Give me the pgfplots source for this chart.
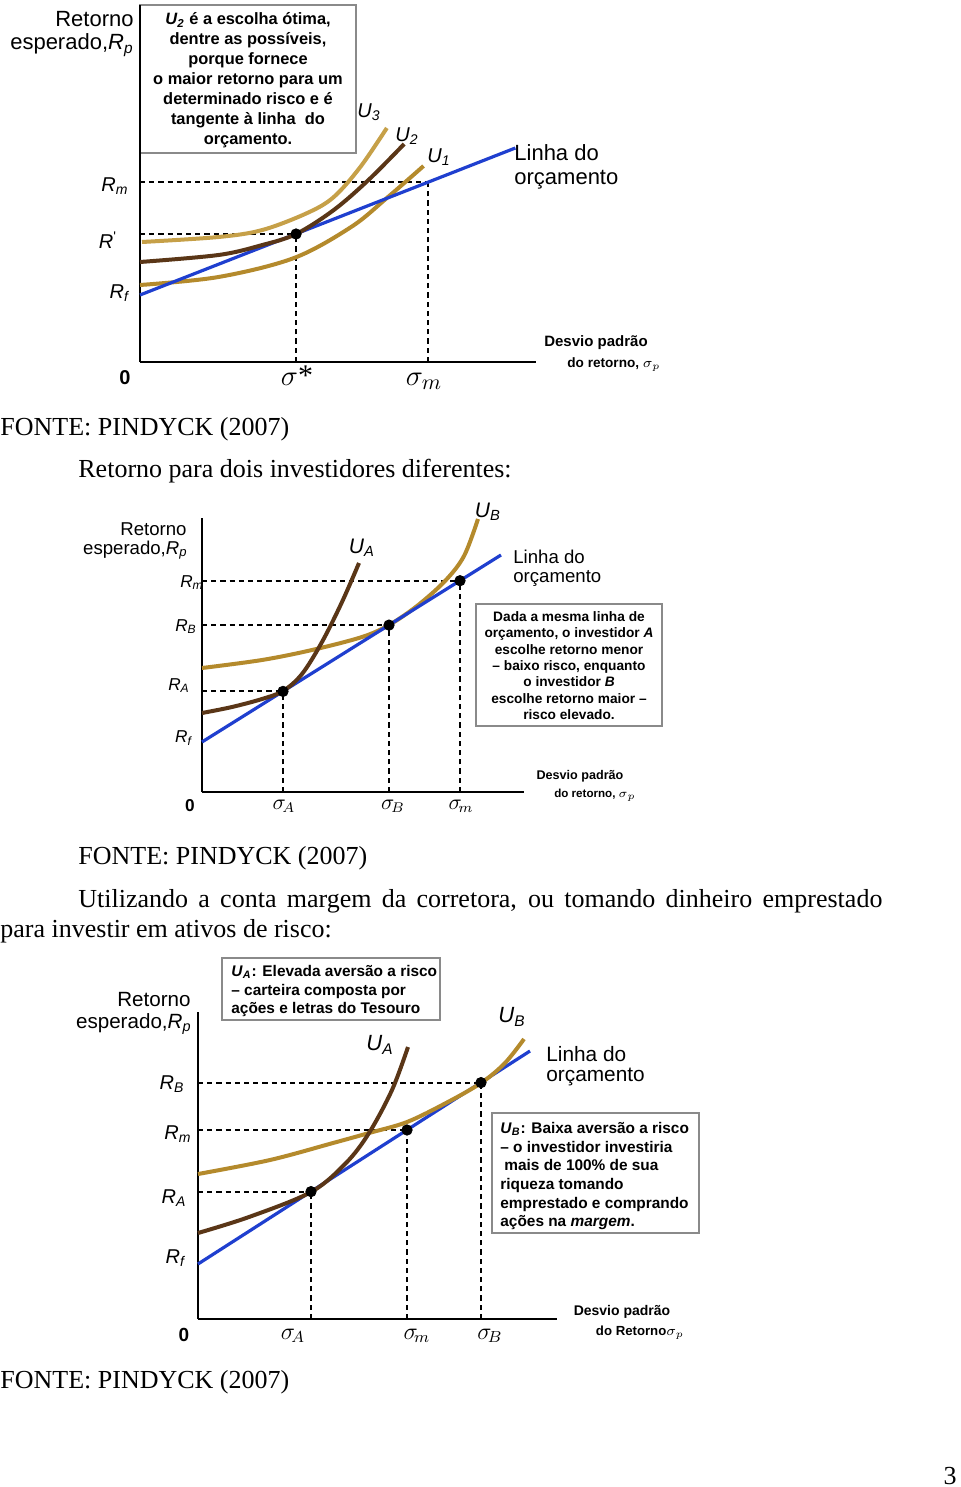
\documentclass[border=0pt]{standalone}
\usepackage{pgfplots}
\pgfplotsset{compat=1.18}
\usepackage{fontspec}
\setmainfont{Liberation Serif}
\newfontfamily\arl{Liberation Sans}
\definecolor{blu}{HTML}{1F3FCF}
\definecolor{gld}{HTML}{B48A2C}
\definecolor{lgld}{HTML}{C6A048}
\definecolor{brn}{HTML}{5A3617}
\definecolor{bxgray}{HTML}{8A8A8A}
\pgfplotsset{diag/.style={
  scale only axis, clip=false, anchor=south west,
  axis x line=bottom, axis y line=left,
  axis line style={-, line width=1.1pt, black},
  xtick=\empty, ytick=\empty, xmin=0, ymin=0},
curve/.style={smooth, tension=0.55, line width=2pt, no marks},
dsh/.style={black, line width=1pt, dash pattern=on 2.6pt off 2pt, no marks},
dot/.style={only marks, mark=*, mark size=2.6pt, black},
bline/.style={blu, line width=1.6pt, no marks}}
\newcommand{\fs}[1]{\fontsize{#1}{#1}\selectfont}
\newcommand{\Rl}[1]{\textit{R}\textsubscript{\textit{#1}}}
\newcommand{\Ul}[1]{\textit{U}\textsubscript{\textit{#1}}}
\begin{document}
\begin{tikzpicture}
\begin{scope}[x=0.5pt,y=-0.5pt,every node/.style={inner sep=0pt}]
\fill[white] (0,0) rectangle (960,1487);
% ---------- diagram 1 labels
\node[anchor=east,font=\arl\fs{11}] at (134,19) {Retorno};
\node[anchor=east,font=\arl\fs{11}] at (134,45) {esperado,\Rl{p}};
\draw[bxgray,line width=0.6pt] (140,5) rectangle (356,153);
\begin{scope}[every node/.style={anchor=base,inner sep=0pt,font=\arl\bfseries\fs{8.2}}]
\node at (248,25) {\Ul{2} é a escolha ótima,};
\node at (248,45) {dentre as possíveis,};
\node at (248,65) {porque fornece};
\node at (248,85) {o maior retorno para um};
\node at (248,105) {determinado risco e é};
\node at (248,125) {tangente à linha\ \ do};
\node at (248,145) {orçamento.};
\end{scope}
\node[font=\arl\fs{10}] at (369,112) {\Ul{3}};
\node[font=\arl\fs{10}] at (407,136) {\Ul{2}};
\node[font=\arl\fs{10}] at (439,157) {\Ul{1}};
\node[anchor=west,font=\arl\fs{11}] at (514,153) {Linha do};
\node[anchor=west,font=\arl\fs{11}] at (514,180) {orçamento};
\node[font=\arl\fs{10}] at (115,186) {\Rl{m}};
\node[font=\arl\fs{10}] at (108,240) {\textit{R}\textsuperscript{'}};
\node[font=\arl\fs{10}] at (120,293) {\Rl{f}};
\node[font=\arl\bfseries\fs{10}] at (125,378) {0};
\node[font=\fs{15}] at (297,376) {$\sigma$*};
\node[font=\fs{15}] at (424,381) {$\sigma_{m}$};
\node[font=\arl\bfseries\fs{7.5}] at (596,343) {Desvio padrão};
\node[font=\arl\bfseries\fs{6.8}] at (614,365) {do retorno, $\sigma_p$};
% ---------- text
\node[anchor=base west,font=\fs{13}] at (0,435) {FONTE: PINDYCK (2007)};
\node[anchor=base west,font=\fs{13}] at (78,477) {Retorno para dois investidores diferentes:};
% ---------- diagram 2 labels
\node[anchor=east,font=\arl\fs{9.3}] at (187,529) {Retorno};
\node[anchor=east,font=\arl\fs{9.3}] at (188,550) {esperado,\Rl{p}};
\node[font=\arl\fs{8.6}] at (192,583) {\Rl{m}};
\node[font=\arl\fs{8.6}] at (186,627) {\Rl{B}};
\node[font=\arl\fs{8.6}] at (179,686) {\Rl{A}};
\node[font=\arl\fs{8.6}] at (184,738) {\Rl{f}};
\node[font=\arl\bfseries\fs{8.6}] at (190,806) {0};
\node[font=\fs{10.5}] at (284,806) {$\sigma_{\!A}$};
\node[font=\fs{10.5}] at (393,806) {$\sigma_{\!B}$};
\node[font=\fs{10.5}] at (461,806) {$\sigma_{\!m}$};
\node[font=\arl\fs{10.5}] at (362,548) {\Ul{A}};
\node[font=\arl\fs{10.5}] at (488,512) {\Ul{B}};
\node[anchor=west,font=\arl\fs{9.3}] at (513,557) {Linha do};
\node[anchor=west,font=\arl\fs{9.3}] at (513,578) {orçamento};
\draw[bxgray,line width=0.6pt] (476,604) rectangle (662,726);
\begin{scope}[every node/.style={anchor=base,inner sep=0pt,font=\arl\bfseries\fs{6.85}}]
\node at (569,621) {Dada a mesma linha de};
\node at (569,637) {orçamento, o investidor \textit{A}};
\node at (569,654) {escolhe retorno menor};
\node at (569,670) {– baixo risco, enquanto};
\node at (569,686) {o investidor \textit{B}};
\node at (569,703) {escolhe retorno maior –};
\node at (569,719) {risco elevado.};
\end{scope}
\node[font=\arl\bfseries\fs{6.3}] at (580,776) {Desvio padrão};
\node[font=\arl\bfseries\fs{5.8}] at (595,795) {do retorno, $\sigma_p$};
% ---------- text
\node[anchor=base west,font=\fs{13}] at (78,864) {FONTE: PINDYCK (2007)};
\node[anchor=base west,font=\fs{13}] at (78,907) {\makebox[402pt][s]{Utilizando a conta margem da corretora, ou tomando dinheiro emprestado}};
\node[anchor=base west,font=\fs{13}] at (0,937) {para investir em ativos de risco:};
% ---------- diagram 3 labels
\node[anchor=east,font=\arl\fs{10.3}] at (191,1000) {Retorno};
\node[anchor=east,font=\arl\fs{10.3}] at (192,1024) {esperado,\Rl{p}};
\draw[bxgray,line width=0.6pt] (222,958) rectangle (440,1020);
\begin{scope}[every node/.style={anchor=base west,inner sep=0pt,font=\arl\bfseries\fs{7.7}}]
\node at (231,976.5) {\Ul{A}: Elevada aversão a risco};
\node at (231,995.5) {– carteira composta por};
\node at (231,1013.5) {ações e letras do Tesouro};
\end{scope}
\draw[bxgray,line width=0.6pt] (492,1113) rectangle (699,1233);
\begin{scope}[every node/.style={anchor=base west,inner sep=0pt,font=\arl\bfseries\fs{7.7}}]
\node at (500,1133.5) {\Ul{B}: Baixa aversão a risco};
\node at (500,1152.5) {– o investidor investiria};
\node at (504,1170.5) {mais de 100\% de sua};
\node at (500,1189.5) {riqueza tomando};
\node at (500,1208.5) {emprestado e comprando};
\node at (500,1226.5) {ações na \textit{margem}.};
\end{scope}
\node[font=\arl\fs{11}] at (380,1045) {\Ul{A}};
\node[font=\arl\fs{11}] at (512,1017) {\Ul{B}};
\node[anchor=west,font=\arl\fs{10.4}] at (546,1054) {Linha do};
\node[anchor=west,font=\arl\fs{10.4}] at (546,1077) {orçamento};
\node[font=\arl\fs{10}] at (172,1084) {\Rl{B}};
\node[font=\arl\fs{10}] at (178,1134) {\Rl{m}};
\node[font=\arl\fs{10}] at (174,1198) {\Rl{A}};
\node[font=\arl\fs{10}] at (176,1258) {\Rl{f}};
\node[font=\arl\bfseries\fs{9.5}] at (184,1335) {0};
\node[font=\fs{12}] at (293,1336) {$\sigma_{\!A}$};
\node[font=\fs{12}] at (417,1336) {$\sigma_{\!m}$};
\node[font=\fs{12}] at (490,1336) {$\sigma_{\!B}$};
\node[font=\arl\bfseries\fs{7}] at (622,1312) {Desvio padrão};
\node[font=\arl\bfseries\fs{6.6}] at (640,1333) {do Retorno$\sigma_p$};
% ---------- text
\node[anchor=base west,font=\fs{13}] at (0,1388) {FONTE: PINDYCK (2007)};
\node[anchor=base east,font=\fs{13}] at (957,1484) {3};
\end{scope}
% ================= diagram 1
\begin{axis}[diag, at={(70pt,-181pt)}, width=194pt, height=178.5pt, xmax=388, ymax=357]
\addplot[dsh] coordinates {(0,128) (153,128)};
\addplot[dsh] coordinates {(153,0) (153,128)};
\addplot[dsh] coordinates {(0,180) (282,180)};
\addplot[dsh] coordinates {(282,0) (282,180)};
\addplot[curve, lgld] coordinates {(2,120) (77,125) (120,132) (164,149) (190,165) (216,195) (242,234)};
\addplot[curve, gld] coordinates {(0,77) (77,85) (151,104) (207,135) (242,164) (278,196)};
\addplot[bline] coordinates {(0,67) (368,214)};
\addplot[curve, brn] coordinates {(0,100) (77,107) (120,117) (153,128) (190,152) (224,182) (259,218)};
\addplot[dot] coordinates {(153,128)};
\end{axis}
% ================= diagram 2
\begin{axis}[diag, at={(101pt,-396pt)}, width=161pt, height=137pt, xmax=322, ymax=274]
\addplot[dsh] coordinates {(0,101) (81,101)};
\addplot[dsh] coordinates {(81,0) (81,101)};
\addplot[dsh] coordinates {(0,167) (187,167)};
\addplot[dsh] coordinates {(187,0) (187,167)};
\addplot[dsh] coordinates {(0,211) (258,211)};
\addplot[dsh] coordinates {(258,0) (258,211)};
\addplot[curve, gld] coordinates {(0,124) (60,132) (110,142) (160,155) (187,167) (215,186) (243,211) (262,236) (276,273)};
\addplot[bline] coordinates {(0,50) (299,237)};
\addplot[curve, brn] coordinates {(0,79) (30,85) (60,93) (81,101) (100,118) (120,150) (140,190) (157,229)};
\addplot[dot] coordinates {(81,100.6) (187,166.9) (258,211.3)};
\end{axis}
% ================= diagram 3
\begin{axis}[diag, at={(99pt,-659.5pt)}, width=179.5pt, height=153.5pt, xmax=359, ymax=307]
\addplot[dsh] coordinates {(0,127) (113,127)};
\addplot[dsh] coordinates {(113,0) (113,127)};
\addplot[dsh] coordinates {(0,189) (209,189)};
\addplot[dsh] coordinates {(209,0) (209,189)};
\addplot[dsh] coordinates {(0,236) (283,236)};
\addplot[dsh] coordinates {(283,0) (283,236)};
\addplot[bline] coordinates {(0,55) (332,268)};
\addplot[curve, gld] coordinates {(0,145) (72,159) (135,176) (171,186) (209,197) (248,216) (283,236) (307,256) (326,280)};
\addplot[curve, brn] coordinates {(0,86) (51,102) (113,127) (148,156) (171,186) (194,229) (210,272)};
\addplot[dot] coordinates {(113,127.4) (209,189) (283,236.4)};
\end{axis}
\end{tikzpicture}
\end{document}
